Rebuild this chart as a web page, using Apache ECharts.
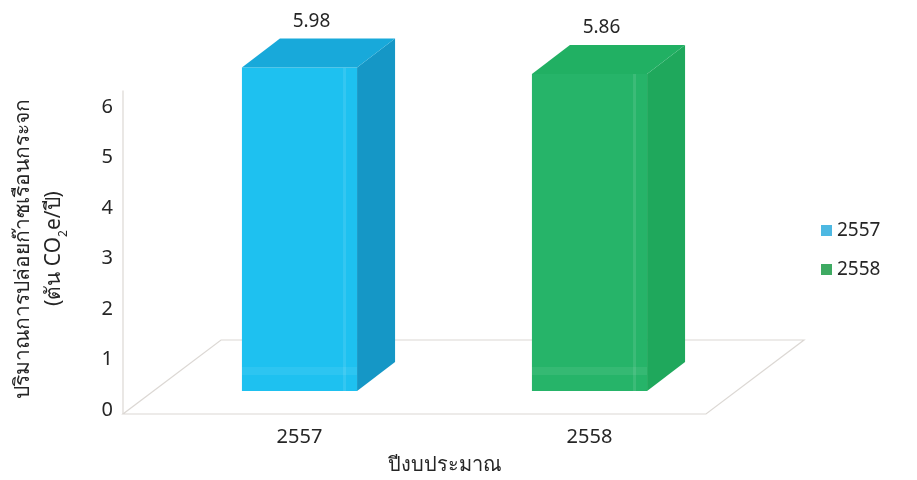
<!DOCTYPE html>
<html>
<head>
<meta charset="utf-8">
<script src="https://cdn.jsdelivr.net/npm/echarts@6/dist/echarts.min.js"></script>
<style>
html,body{margin:0;padding:0;background:#fff;}
#chart{width:917px;height:480px;}
</style>
</head>
<body>
<div id="chart"></div>
<script>
// ---- data ----
const categories = ['2557', '2558'];
const values = [5.98, 5.86];
const seriesNames = ['2557', '2558'];
const yAxisMin = 0;
const yAxisMax = 6;
const yAxisInterval = 1;
const xAxisTitle = 'ปีงบประมาณ';
const yAxisTitleLine1 = 'ปริมาณการปล่อยก๊าซเรือนกระจก';
const yAxisTitleLine2 = '(ตัน CO{sub|2}e/ปี)';

// ---- styles ----
const FONT = "'Noto Sans', 'DejaVu Sans', sans-serif";
const palette = [
  { front: '#1EC1F0', side: '#1597C6', top: '#18A9DA', legend: '#4DB8E2' },
  { front: '#26B469', side: '#1FA85C', top: '#21B063', legend: '#3EAA62' }
];
const DEPTH_X = 38, DEPTH_Y = -29;

const chart = echarts.init(document.getElementById('chart'), null, { renderer: 'canvas' });

function floorRender(params, api) {
  const cs = params.coordSys;
  const y0 = api.coord([0, 0])[1];
  const yTop = api.coord([0, yAxisMax])[1];
  const fl = cs.x - 31.5, fr = cs.x + cs.width - 28.5;
  const fy = y0 + 23, by = y0 - 51, d = 98;
  return {
    type: 'group',
    children: [
      { type: 'polygon', shape: { points: [[fl, fy], [fr, fy], [fr + d, by], [fl + d, by]] },
        style: { fill: '#fff', stroke: '#DCD8D4', lineWidth: 1.2 } },
      { type: 'line', shape: { x1: fl, y1: fy, x2: fl, y2: yTop + 24 },
        style: { stroke: '#DCD8D4', lineWidth: 1.2 } }
    ]
  };
}

function makeBarRender(pal) {
  return function (params, api) {
    const i = api.value(0), v = api.value(1);
    const top = api.coord([i, v]);
    const base = api.coord([i, 0]);
    const w = api.size([1, 0])[0] * 0.397;
    const x0 = top[0] - w / 2, x1 = top[0] + w / 2;
    const yt = top[1], yb = base[1];
    const dx = DEPTH_X, dy = DEPTH_Y;
    return {
      type: 'group',
      children: [
        { type: 'rect', shape: { x: x0, y: yt, width: w, height: yb - yt }, style: { fill: pal.front } },
        { type: 'rect', shape: { x: x1 - 14, y: yt, width: 3, height: yb - yt }, style: { fill: 'rgba(255,255,255,0.10)' } },
        { type: 'rect', shape: { x: x0, y: yb - 24, width: w, height: 8 }, style: { fill: 'rgba(255,255,255,0.07)' } },
        { type: 'polygon', shape: { points: [[x1, yt], [x1 + dx, yt + dy], [x1 + dx, yb + dy], [x1, yb]] }, style: { fill: pal.side } },
        { type: 'polygon', shape: { points: [[x0, yt], [x0 + dx, yt + dy], [x1 + dx, yt + dy], [x1, yt]] }, style: { fill: pal.top } },
        { type: 'text', x: top[0] + 12, y: yt + dy - 17,
          style: { text: String(v.toFixed(2)), fill: '#262626', fontSize: 19, fontFamily: FONT, align: 'center', verticalAlign: 'middle' } }
      ]
    };
  };
}

const barSeries = seriesNames.map((name, k) => ({
  name: name,
  type: 'custom',
  xAxisIndex: 1,
  yAxisIndex: 1,
  z: 5,
  color: palette[k].legend,
  renderItem: makeBarRender(palette[k]),
  encode: { x: 0, y: 1 },
  data: [[k, values[k]]]
}));

const option = {
  animation: false,
  backgroundColor: '#fff',
  textStyle: { fontFamily: FONT },
  legend: {
    orient: 'vertical',
    left: 816,
    top: 216,
    itemGap: 20,
    itemWidth: 11,
    itemHeight: 11,
    icon: 'rect',
    textStyle: { fontSize: 19, color: '#262626', fontFamily: FONT },
    data: seriesNames.map((n, k) => ({ name: n, itemStyle: { color: palette[k].legend } }))
  },
  grid: [
    { left: 123, right: 183, top: 107, bottom: 70 },
    { left: 154.5, right: 182.5, top: 66.4, bottom: 86 }
  ],
  xAxis: [
    { gridIndex: 0, type: 'category', data: categories, show: false },
    { gridIndex: 1, type: 'category', data: categories,
      axisLine: { show: false }, axisTick: { show: false },
      axisLabel: { margin: 36, fontSize: 20, color: '#262626', fontFamily: FONT },
      name: xAxisTitle, nameLocation: 'middle', nameGap: 64,
      nameTextStyle: { fontSize: 20, color: '#262626', fontFamily: FONT } }
  ],
  yAxis: [
    { gridIndex: 0, type: 'value', min: yAxisMin, max: yAxisMax, interval: yAxisInterval,
      axisLine: { show: false }, axisTick: { show: false }, splitLine: { show: false },
      axisLabel: { margin: 11, fontSize: 20, color: '#262626', fontFamily: FONT },
      name: yAxisTitleLine1 + '\n' + yAxisTitleLine2, nameLocation: 'middle', nameGap: 54,
      nameTextStyle: { fontSize: 21, color: '#262626', fontFamily: FONT, lineHeight: 31,
        padding: [0, 0, 0, 20],
        rich: { sub: { fontSize: 12, verticalAlign: 'bottom', lineHeight: 31, padding: [10, 0, 0, 0] } } } },
    { gridIndex: 1, type: 'value', min: yAxisMin, max: yAxisMax, show: false }
  ],
  series: [
    { type: 'custom', xAxisIndex: 1, yAxisIndex: 1, z: 1, silent: true,
      renderItem: floorRender, data: [[0, 0]], encode: { x: 0, y: 1 } }
  ].concat(barSeries)
};
chart.setOption(option);
</script>
</body>
</html>
